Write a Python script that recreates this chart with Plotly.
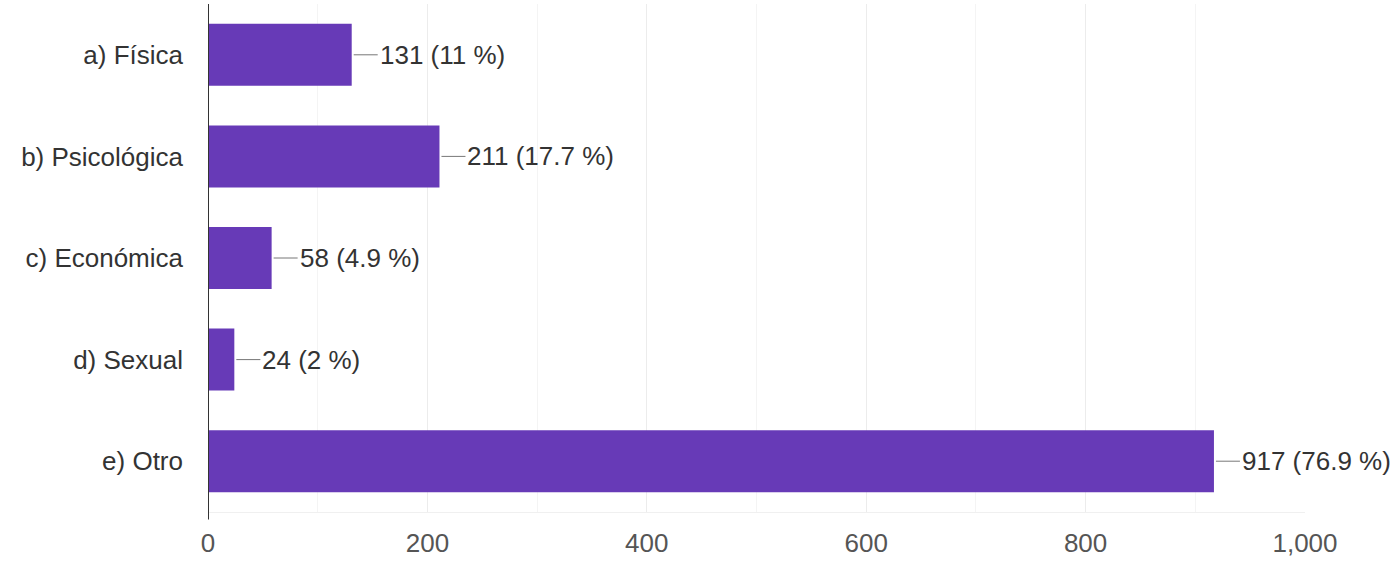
import plotly.graph_objects as go

categories = ["a) Física", "b) Psicológica", "c) Económica", "d) Sexual", "e) Otro"]
counts = [131, 211, 58, 24, 917]
percents = ["11", "17.7", "4.9", "2", "76.9"]
x_ticks = [0, 200, 400, 600, 800, 1000]
x_tick_labels = ["0", "200", "400", "600", "800", "1,000"]

BAR_COLOR = "#673ab7"
FONT = "Liberation Sans, Arial, sans-serif"
FS = 26

fig = go.Figure()
fig.add_trace(go.Bar(
    x=counts, y=categories, orientation="h",
    marker=dict(color=BAR_COLOR, line=dict(width=0)),
    hoverinfo="skip",
))

for c, v, p in zip(categories, counts, percents):
    fig.add_annotation(
        x=v, y=c, xref="x", yref="y",
        text=f"{v} ({p} %)",
        showarrow=True, arrowhead=0, arrowwidth=1, arrowcolor="#777",
        ax=26, ay=0, standoff=2,
        xanchor="left", yanchor="middle",
        font=dict(family=FONT, size=FS, color="#333"),
    )

fig.update_layout(
    width=1391, height=561,
    margin=dict(l=208, r=86, t=4, b=49),
    paper_bgcolor="white", plot_bgcolor="white",
    bargap=0.39,
    showlegend=False,
    font=dict(family=FONT, size=FS, color="#333"),
)
fig.update_xaxes(
    range=[0, 1000],
    tickvals=x_ticks, ticktext=x_tick_labels,
    showgrid=True, gridcolor="#ececec", gridwidth=1,
    minor=dict(dtick=100, showgrid=True, gridcolor="#f4f4f4", gridwidth=1),
    zeroline=False, showline=True, linecolor="#f0f0f0", linewidth=1,
    ticks="", ticklabelstandoff=8, automargin=False,
    tickfont=dict(family=FONT, size=FS, color="#555"),
    fixedrange=True,
)
fig.update_yaxes(
    categoryorder="array", categoryarray=categories, autorange="reversed",
    showgrid=False, zeroline=False,
    showline=False, ticks="", ticklabelstandoff=24, automargin=False,
    tickfont=dict(family=FONT, size=FS, color="#333"),
    fixedrange=True,
)
fig.add_shape(type="line", xref="x", yref="paper", x0=0, x1=0, y0=-0.015, y1=1.0,
              line=dict(color="#333", width=2))

fig.write_html("out.html", config={"displayModeBar": False},
               post_script="document.body.style.margin='0';")
